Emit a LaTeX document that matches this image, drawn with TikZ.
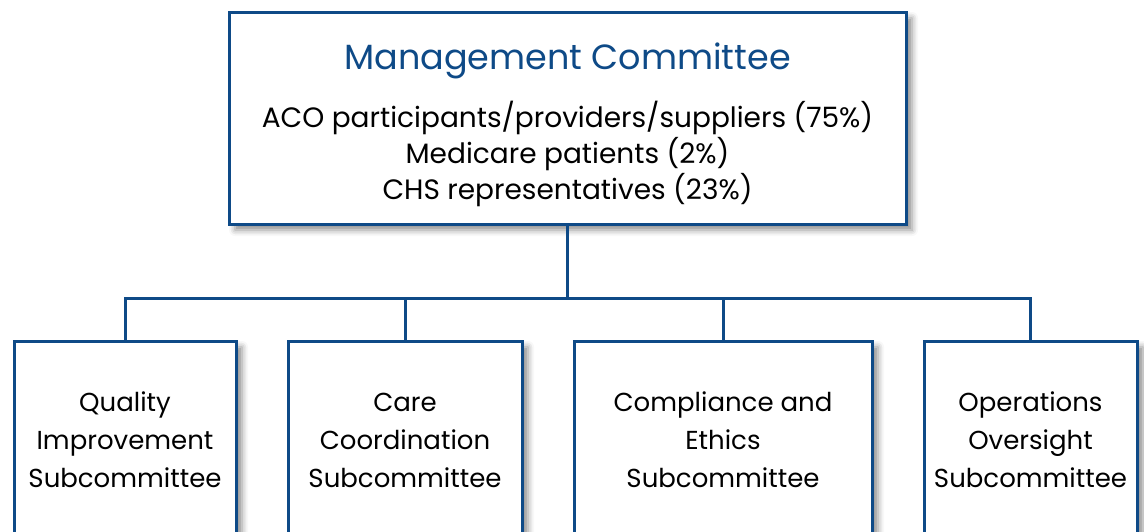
\documentclass[tikz,border=0pt]{standalone}
\usepackage{fontspec}
\setmainfont{Poppins}
\usepackage{xcolor}
\usetikzlibrary{shadows.blur}

\definecolor{boxblue}{HTML}{0E4A87}

\begin{document}
\begin{tikzpicture}[x=1pt,y=-1pt]
    % Define node styles
    \tikzstyle{board} = [draw=boxblue, line width=3pt, fill=white, align=center,
        blur shadow={shadow xshift=6pt, shadow yshift=-6pt, shadow blur radius=6pt, shadow opacity=45}]
    \tikzstyle{sub} = [board, font=\fontsize{26}{38}\selectfont, minimum height=198pt, inner sep=0pt]
    \tikzstyle{link} = [draw=boxblue, line width=3pt]

    \clip (0,0) rectangle (1144,531);
    \useasboundingbox (0,0) rectangle (1144,531);

    % Management committee
    \node[board, minimum width=677pt, minimum height=212pt, inner sep=0pt] (mc) at (567.5,118) {};
    \node[align=center, inner sep=0pt, font=\fontsize{28}{36}\selectfont] (mctext) at (567.5,124.5)
        {{\color{boxblue}\fontsize{35}{38}\selectfont Management Committee}\\[22pt]
         ACO participants/providers/suppliers (75\%)\\
         Medicare patients (2\%)\\
         CHS representatives (23\%)};

    % Subcommittees
    \node[sub, minimum width=222pt] (qi) at (125,440) {Quality\\Improvement\\Subcommittee};
    \node[sub, minimum width=234pt] (cc) at (405,440) {Care\\Coordination\\Subcommittee};
    \node[sub, minimum width=298pt] (ce) at (723,440) {Compliance and\\Ethics\\Subcommittee};
    \node[sub, minimum width=213pt] (oo) at (1030.5,440) {Operations\\Oversight\\Subcommittee};

    % Connectors
    \coordinate (bus) at (567.5,298);
    \draw[link] (mc.south) -- (bus);
    \foreach \b in {qi,cc,ce,oo}
        \draw[link] (bus) -| (\b.north);
\end{tikzpicture}
\end{document}
